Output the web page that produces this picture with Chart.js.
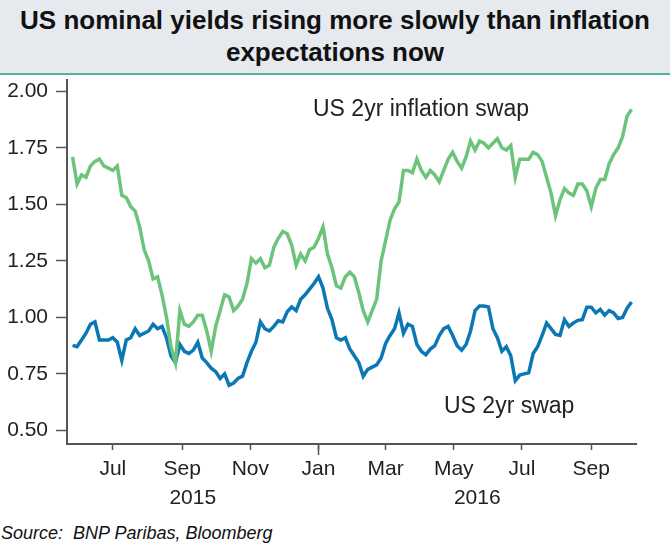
<!DOCTYPE html>
<html>
<head>
<meta charset="utf-8">
<script src="https://cdn.jsdelivr.net/npm/chart.js@4.4.1/dist/chart.umd.min.js"></script>
<style>
  body { margin: 0; width: 670px; height: 545px; background: #fff; position: relative; overflow: hidden;
         font-family: "Liberation Sans", Arial, sans-serif; }
  #title { position: absolute; left: 0; top: 0; width: 670px; height: 75px; box-sizing: border-box;
           background: #e6e9ee; border-bottom: 2px solid #4db59d; padding-top: 4px;
           text-align: center; font-weight: bold; font-size: 26px; line-height: 32px; color: #111; }
  #wrap { position: absolute; left: 0; top: 76px; width: 670px; height: 444px; }
  .lbl { position: absolute; font-size: 23px; line-height: 23px; color: #222; white-space: nowrap; }
  #source { position: absolute; left: 1px; top: 523px; font-style: italic; font-size: 18px; color: #111; }
</style>
</head>
<body>
<div id="title">US nominal yields rising more slowly than inflation<br>expectations now</div>
<div id="wrap"><canvas id="chart"></canvas></div>
<div class="lbl" style="left:313px; top:97px">US 2yr inflation swap</div>
<div class="lbl" style="left:444px; top:394px">US 2yr swap</div>
<div id="source">Source:&nbsp; BNP Paribas, Bloomberg</div>

<script>
const dates = [
  '2015-05-26','2015-05-30','2015-06-03','2015-06-07','2015-06-11','2015-06-15','2015-06-19','2015-06-23','2015-06-27',
  '2015-07-01','2015-07-05','2015-07-09','2015-07-13','2015-07-17','2015-07-21','2015-07-25','2015-07-29',
  '2015-08-02','2015-08-06','2015-08-10','2015-08-14','2015-08-18','2015-08-22','2015-08-26','2015-08-30',
  '2015-09-03','2015-09-07','2015-09-11','2015-09-15','2015-09-19','2015-09-23','2015-09-27',
  '2015-10-01','2015-10-05','2015-10-09','2015-10-13','2015-10-17','2015-10-21','2015-10-25','2015-10-29',
  '2015-11-02','2015-11-06','2015-11-10','2015-11-14','2015-11-18','2015-11-22','2015-11-26','2015-11-30',
  '2015-12-04','2015-12-08','2015-12-12','2015-12-16','2015-12-20','2015-12-24','2015-12-28',
  '2016-01-01','2016-01-05','2016-01-09','2016-01-13','2016-01-17','2016-01-21','2016-01-25','2016-01-29',
  '2016-02-02','2016-02-06','2016-02-10','2016-02-14','2016-02-18','2016-02-22','2016-02-26',
  '2016-03-01','2016-03-05','2016-03-09','2016-03-13','2016-03-17','2016-03-21','2016-03-25','2016-03-29',
  '2016-04-02','2016-04-06','2016-04-10','2016-04-14','2016-04-18','2016-04-22','2016-04-26','2016-04-30',
  '2016-05-04','2016-05-08','2016-05-12','2016-05-16','2016-05-20','2016-05-24','2016-05-28',
  '2016-06-01','2016-06-05','2016-06-09','2016-06-13','2016-06-17','2016-06-21','2016-06-25','2016-06-29',
  '2016-07-03','2016-07-07','2016-07-11','2016-07-15','2016-07-19','2016-07-23','2016-07-27','2016-07-31',
  '2016-08-04','2016-08-08','2016-08-12','2016-08-16','2016-08-20','2016-08-24','2016-08-28',
  '2016-09-01','2016-09-05','2016-09-09','2016-09-13','2016-09-17','2016-09-21','2016-09-25','2016-09-29',
  '2016-10-03','2016-10-07'
];

const inflSwap2y = [
  1.71,1.59,1.63,1.62,1.67,1.69,1.70,1.67,1.66,
  1.65,1.67,1.54,1.53,1.49,1.47,1.40,1.30,
  1.25,1.17,1.18,1.10,1.00,0.87,0.80,1.03,
  0.97,0.96,0.98,1.01,1.01,0.94,0.85,
  0.96,1.03,1.10,1.09,1.03,1.05,1.08,1.15,
  1.26,1.24,1.26,1.22,1.23,1.31,1.35,1.38,
  1.37,1.32,1.23,1.28,1.25,1.30,1.31,
  1.35,1.40,1.28,1.22,1.14,1.13,1.18,1.20,
  1.18,1.11,1.03,0.98,1.03,1.08,1.25,
  1.34,1.43,1.48,1.51,1.65,1.65,1.64,1.70,
  1.65,1.62,1.65,1.63,1.60,1.65,1.70,1.73,
  1.69,1.66,1.71,1.78,1.74,1.78,1.77,
  1.75,1.77,1.79,1.75,1.74,1.76,1.62,1.70,
  1.70,1.70,1.73,1.72,1.69,1.62,1.55,1.45,
  1.52,1.57,1.55,1.54,1.59,1.59,1.56,
  1.49,1.57,1.61,1.61,1.68,1.72,1.75,1.80,
  1.89,1.92
];

const swap2y = [
  0.876,0.87,0.90,0.93,0.97,0.98,0.90,0.90,0.90,
  0.91,0.89,0.81,0.90,0.91,0.95,0.92,0.93,
  0.94,0.97,0.95,0.96,0.91,0.83,0.80,0.88,
  0.85,0.84,0.855,0.89,0.82,0.80,0.775,
  0.76,0.73,0.75,0.70,0.71,0.73,0.74,0.80,
  0.85,0.89,0.98,0.95,0.94,0.96,0.985,0.98,
  1.025,1.046,1.03,1.08,1.10,1.125,1.15,
  1.18,1.13,1.04,0.99,0.91,0.90,0.91,0.86,
  0.83,0.80,0.74,0.77,0.78,0.79,0.82,
  0.885,0.92,0.95,1.02,0.93,0.97,0.96,0.88,
  0.85,0.835,0.86,0.875,0.92,0.95,0.96,0.92,
  0.875,0.855,0.88,0.94,1.03,1.05,1.05,
  1.046,0.95,0.91,0.85,0.87,0.83,0.72,0.745,
  0.75,0.755,0.84,0.87,0.92,0.975,0.95,0.925,
  0.92,0.99,0.96,0.975,0.987,0.99,1.045,
  1.045,1.02,1.035,1.01,1.03,1.02,0.995,1.0,
  1.04,1.068
];

const tickDates = ['2015-07-01','2015-09-01','2015-11-01','2016-01-01','2016-03-01','2016-05-01','2016-07-01','2016-09-01'];
const tickLabels = ['Jul','Sep','Nov','Jan','Mar','May','Jul','Sep'];
const yearLabels = ['2015','2016'];
const yTicks = [0.50, 0.75, 1.00, 1.25, 1.50, 1.75, 2.00];

const axisStart = '2015-05-21';
const axisEnd = '2016-10-11';
const yearBreak = '2016-01-01';

const day = s => Date.parse(s) / 864e5;
const axisGrey = '#555';
const tickFont = { family: '"Liberation Sans", Arial, sans-serif', size: 21 };

// year row under the month labels, plus the longer tick at the year break
const yearRow = {
  id: 'yearRow',
  afterDraw(chart) {
    const c = chart.ctx, xs = chart.scales.x;
    const xb = xs.getPixelForValue(day(yearBreak));
    c.save();
    c.strokeStyle = axisGrey;
    c.lineWidth = 1.5;
    c.beginPath();
    c.moveTo(xb, xs.top);
    c.lineTo(xb, xs.top + 11);
    c.stroke();
    c.fillStyle = '#222';
    c.font = '21px "Liberation Sans", Arial, sans-serif';
    c.textAlign = 'center';
    c.textBaseline = 'middle';
    c.fillText(yearLabels[0], (xs.left + xb) / 2, xs.top + 54);
    c.fillText(yearLabels[1], (xb + xs.right) / 2, xs.top + 54);
    c.restore();
  }
};

new Chart(document.getElementById('chart').getContext('2d'), {
  type: 'line',
  data: {
    datasets: [
      {
        label: 'US 2yr inflation swap',
        data: dates.map((d, i) => ({ x: day(d), y: inflSwap2y[i] })),
        borderColor: '#6cc47b',
        borderWidth: 3.5,
        pointRadius: 0,
        tension: 0
      },
      {
        label: 'US 2yr swap',
        data: dates.map((d, i) => ({ x: day(d), y: swap2y[i] })),
        borderColor: '#0b78b5',
        borderWidth: 3.5,
        pointRadius: 0,
        tension: 0
      }
    ]
  },
  options: {
    responsive: true,
    maintainAspectRatio: false,
    animation: false,
    layout: { padding: { top: 4, right: 34, left: 0, bottom: 0 } },
    plugins: { legend: { display: false }, tooltip: { enabled: false } },
    scales: {
      x: {
        type: 'linear',
        min: day(axisStart),
        max: day(axisEnd),
        afterBuildTicks: s => { s.ticks = tickDates.map(d => ({ value: day(d) })); },
        afterFit: s => { s.height = 76; s.paddingLeft = 0; s.paddingRight = 0; },
        ticks: {
          callback: (v, i) => tickLabels[i],
          autoSkip: false, maxRotation: 0,
          font: tickFont, color: '#222', padding: 7
        },
        grid: { drawOnChartArea: false, tickLength: 6, tickColor: axisGrey, tickWidth: 1.5 },
        border: { color: axisGrey, width: 2 }
      },
      y: {
        min: 0.44,
        max: 2.05,
        afterBuildTicks: s => { s.ticks = yTicks.map(v => ({ value: v })); },
        afterFit: s => { s.width = 67; s.paddingTop = 0; s.paddingBottom = 0; },
        ticks: {
          callback: v => v.toFixed(2),
          font: tickFont, color: '#222', padding: 8
        },
        grid: { drawOnChartArea: false, tickLength: 11, tickColor: axisGrey, tickWidth: 1.5 },
        border: { color: axisGrey, width: 2 }
      }
    }
  },
  plugins: [yearRow]
});
</script>
</body>
</html>
